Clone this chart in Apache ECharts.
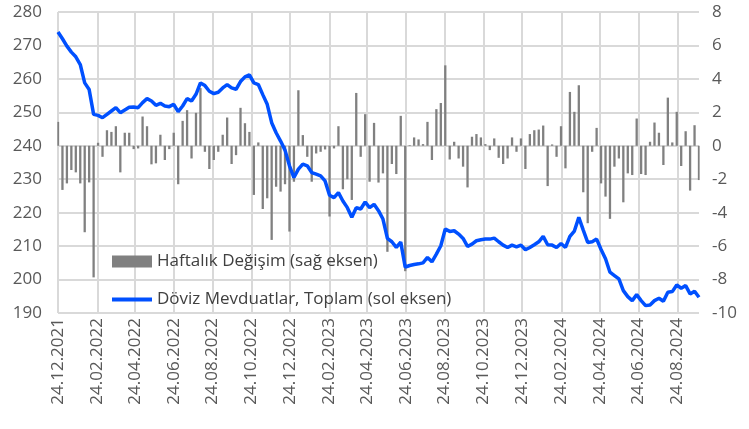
<!DOCTYPE html>
<html><head><meta charset="utf-8">
<script src="https://cdn.jsdelivr.net/npm/echarts@6/dist/echarts.min.js"></script>
<style>html,body{margin:0;padding:0;background:#fff}#c{width:749px;height:429px}</style>
</head><body><div id="c"></div><script>
// First weekly observation and axis end (weekly, Fridays)
const startDate = '2021-12-24';
const endDate = '2024-09-27';
const seriesNames = ['Haftalık Değişim (sağ eksen)', 'Döviz Mevduatlar, Toplam (sol eksen)'];
// Weekly change (right axis)
const weeklyChange = [
 1.43,-2.64,-2.25,-1.45,-1.59,-2.25,-5.17,-2.19,-7.87,0.18,
 -0.66,0.93,0.83,1.17,-1.59,0.78,0.78,-0.20,-0.16,1.75,
 1.17,-1.11,-1.05,0.66,-0.85,-0.20,0.78,-2.30,1.49,2.13,
 -0.76,1.97,3.45,-0.36,-1.39,-0.85,-0.36,0.66,1.69,-1.09,
 -0.56,2.27,1.35,0.83,-2.94,0.20,-3.78,-3.14,-5.63,-2.45,
 -2.74,-2.30,-5.13,-2.15,3.32,0.64,-0.66,-2.15,-0.46,-0.36,
 -0.22,-4.23,-0.16,1.17,-2.60,-2.00,-3.24,3.16,-0.66,1.89,
 -2.15,1.37,-2.20,-1.65,-6.34,-1.09,-1.69,1.79,-7.50,0.04,
 0.50,0.38,0.10,1.43,-0.85,2.19,2.56,4.81,-0.82,0.24,
 -0.76,-1.25,-2.49,0.54,0.70,0.50,0.10,-0.26,0.44,-0.72,
 -1.09,-0.76,0.50,-0.36,0.44,-1.39,0.70,0.93,0.97,1.21,
 -2.41,0.08,-0.66,1.17,-1.35,3.22,2.03,3.62,-2.78,-4.63,
 -0.36,1.07,-2.25,-3.04,-4.37,-1.25,-0.76,-3.38,-1.65,-1.75,
 1.63,-1.69,-1.75,0.24,1.39,0.78,-1.15,2.88,0.20,2.03,
 -1.21,0.87,-2.68,1.23,-2.05
];
// FX deposits total (left axis)
const fxDeposits = [
 274.0,272.0,269.8,268.0,266.6,264.3,258.8,256.8,249.4,249.1,
 248.4,249.4,250.4,251.4,249.9,250.7,251.5,251.6,251.4,252.9,
 254.1,253.4,252.1,252.7,251.9,251.7,252.4,250.2,251.9,254.1,
 253.4,255.4,258.8,258.0,256.3,255.6,256.0,257.3,258.3,257.3,
 256.9,259.2,260.6,261.2,258.8,258.3,255.3,252.4,246.9,243.9,
 241.4,238.7,234.0,230.5,233.0,234.5,234.0,232.0,231.5,231.0,
 229.5,225.2,224.5,226.0,223.5,221.5,218.6,221.5,221.1,223.2,
 221.5,222.5,220.6,218.1,212.3,211.3,209.6,211.2,203.7,204.2,
 204.5,204.7,205.0,206.6,205.3,207.6,210.1,215.1,214.4,214.6,
 213.6,212.3,209.9,210.6,211.6,211.9,212.1,212.1,212.4,211.3,
 210.3,209.6,210.3,209.8,210.3,208.9,209.6,210.4,211.3,212.9,
 210.4,210.3,209.6,210.8,209.6,212.9,214.5,218.6,214.8,211.1,
 211.3,212.1,209.0,206.2,202.2,201.2,200.2,196.7,194.9,193.7,
 195.5,193.7,192.2,192.4,193.7,194.4,193.5,196.2,196.4,198.4,
 197.4,198.2,195.7,196.5,194.7
];
const leftAxis = {min: 190, max: 280, step: 10};
const rightAxis = {min: -10, max: 8, step: 2};

function fmt(d){
  const dd = String(d.getUTCDate()).padStart(2,'0');
  const mm = String(d.getUTCMonth()+1).padStart(2,'0');
  return dd + '.' + mm + '.' + d.getUTCFullYear();
}
const DAY = 86400000;
const t0 = Date.parse(startDate + 'T00:00:00Z');
const t1 = Date.parse(endDate + 'T00:00:00Z');
const days = [];
for (let t = t0; t <= t1; t += DAY) days.push(fmt(new Date(t)));
const weekDates = weeklyChange.map((_, i) => fmt(new Date(t0 + i * 7 * DAY)));
const isMajor = (idx, val) => val.slice(0,2) === '24' && parseInt(val.slice(3,5), 10) % 2 === 0;

const FONT = 'Open Sans';
const chart = echarts.init(document.getElementById('c'));
chart.setOption({
  animation: false,
  backgroundColor: '#fff',
  textStyle: {fontFamily: FONT},
  grid: {left: 58, right: 50, top: 12, bottom: 116, containLabel: false},
  legend: {
    orient: 'vertical', left: 112, top: 253, padding: 0, itemWidth: 40, itemHeight: 12, itemGap: 21,
    textStyle: {fontSize: 17, color: '#404040', fontFamily: FONT},
    data: [
      {name: seriesNames[0], icon: 'rect'},
      {name: seriesNames[1], icon: 'path://M0,0H40V4H0Z'}
    ]
  },
  xAxis: {
    type: 'category', data: days, boundaryGap: false,
    axisLine: {show: false},
    axisTick: {show: true, interval: isMajor, length: 5, lineStyle: {color: '#d9d9d9', width: 2}},
    axisLabel: {interval: isMajor, rotate: 90, fontSize: 17, color: '#595959', margin: 5, fontFamily: FONT},
    splitLine: {show: true, interval: isMajor, lineStyle: {color: '#d9d9d9', width: 2}}
  },
  yAxis: [
    {type: 'value', min: leftAxis.min, max: leftAxis.max, interval: leftAxis.step,
     axisLine: {show: false}, axisTick: {show: false},
     axisLabel: {fontSize: 17, color: '#595959', margin: 16, fontFamily: FONT},
     splitLine: {show: true, lineStyle: {color: '#d9d9d9', width: 2}}},
    {type: 'value', min: rightAxis.min, max: rightAxis.max, interval: rightAxis.step,
     axisLine: {show: false}, axisTick: {show: false},
     axisLabel: {fontSize: 17, color: '#595959', margin: 13, fontFamily: FONT},
     splitLine: {show: false}}
  ],
  series: [
    {name: seriesNames[0], type: 'bar', yAxisIndex: 1, barWidth: 2.3,
     itemStyle: {color: '#808080'},
     data: weekDates.map((d, i) => [d, weeklyChange[i]])},
    {name: seriesNames[1], type: 'line', yAxisIndex: 0, symbol: 'none', showSymbol: false,
     lineStyle: {color: '#0050FF', width: 3.5}, itemStyle: {color: '#0050FF'},
     data: weekDates.map((d, i) => [d, fxDeposits[i]])}
  ]
});
</script></body></html>
